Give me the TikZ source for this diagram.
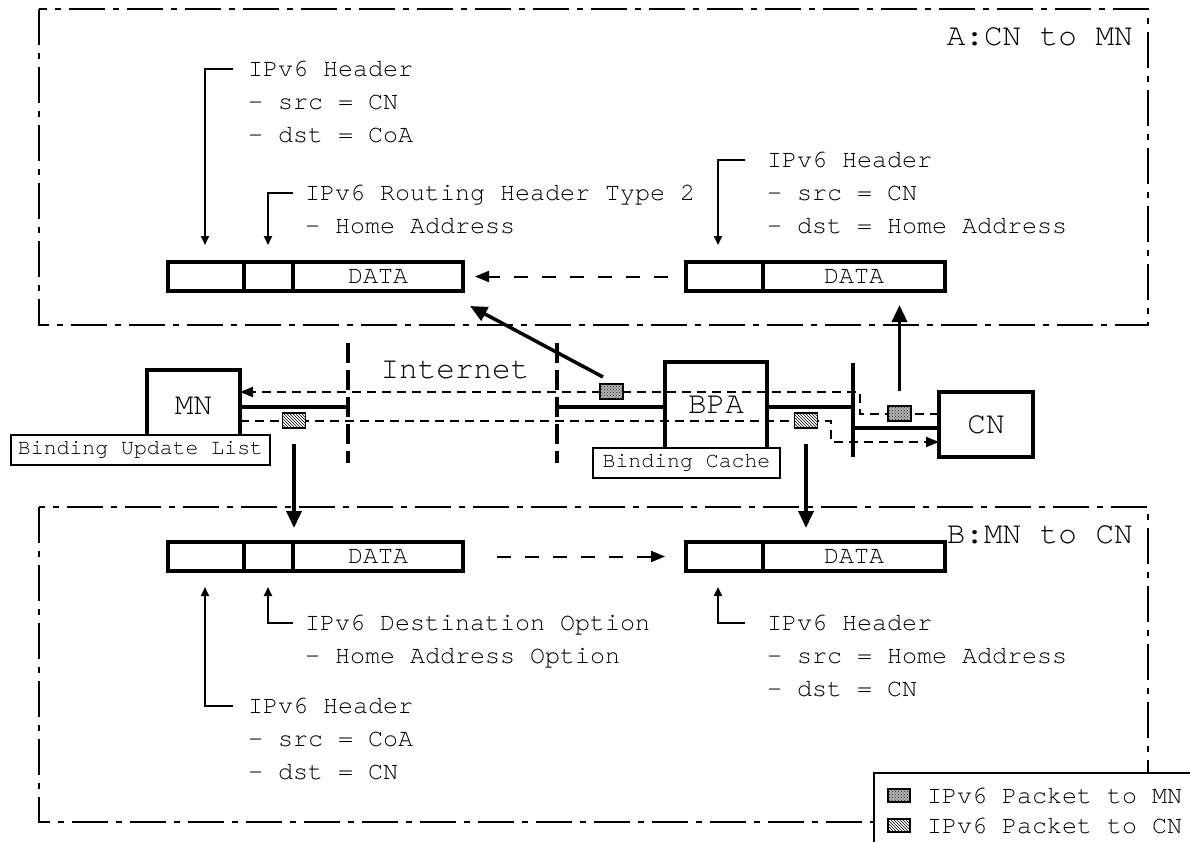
\documentclass[tikz,border=0pt]{standalone}
\usepackage{fontspec}
\setmainfont{texgyrecursor}[Extension=.otf, UprightFont=*-regular, BoldFont=*-bold]
\usetikzlibrary{arrows.meta,patterns}
\newcommand{\fsz}[1]{\fontsize{#1}{#1}\selectfont}
\begin{document}
\begin{tikzpicture}[x=1pt,y=-1pt,
  zone/.style={line width=1.5pt, dash pattern=on 36pt off 8pt on 6pt off 8pt},
  bcell/.style={draw, line width=3.5pt, minimum height=29pt, inner sep=0pt, outer sep=0pt, font=\fsz{25}},
  txt/.style={font=\fsz{25}, inner sep=0pt, anchor=base west},
  big/.style={font=\fsz{31}, inner sep=0pt},
  brk/.style={line width=2pt, -{Triangle[length=9pt,width=8pt]}},
  thk/.style={line width=3.5pt, -{Triangle[length=17pt,width=15pt]}},
  dasharr/.style={line width=2pt, dash pattern=on 14pt off 14pt, -{Triangle[length=14pt,width=11pt]}},
  netd/.style={line width=2pt, dash pattern=on 9pt off 6pt},
  nettip/.style={-{Triangle[length=13pt,width=10pt]}},
  slink/.style={line width=3.5pt},
  inet/.style={line width=3.5pt, dash pattern=on 20pt off 7pt},
  nbox/.style={draw, line width=4pt, inner sep=0pt, outer sep=0pt, font=\fsz{31}},
  lbl/.style={draw, fill=white, line width=1.5pt, inner sep=0pt, minimum height=30pt, font=\fsz{21.5}},
  pkm/.style={draw, line width=1.5pt, fill=gray!60, postaction={pattern=crosshatch dots, pattern color=gray!30!black}, minimum width=23pt, minimum height=15pt, inner sep=0pt},
  pkc/.style={draw, line width=1.5pt, fill=white, postaction={pattern=north west lines}, minimum width=23pt, minimum height=15pt, inner sep=0pt},
]
\useasboundingbox (0,0) rectangle (1190,841);
\fill[white] (0,0) rectangle (1190,841);

% frames
\draw[zone] (39,9) rectangle (1148,325);
\draw[zone] (39,507) rectangle (1148,822);
\node[big, anchor=base east] (ta) at (1133,45) {A:CN to MN};
\node[big, anchor=base east] (tb) at (1133,543) {B:MN to CN};

% packet bars A
\node[bcell, minimum width=76pt] (aL1) at (206,276.5) {};
\node[bcell, minimum width=49pt] (aL2) at (268.5,276.5) {};
\node[bcell, minimum width=170pt] (aL3) at (378,276.5) {DATA};
\node[bcell, minimum width=77pt] (aR1) at (724.5,276.5) {};
\node[bcell, minimum width=182pt] (aR2) at (854,276.5) {DATA};
% packet bars B
\node[bcell, minimum width=76pt] (bL1) at (206,556.5) {};
\node[bcell, minimum width=49pt] (bL2) at (268.5,556.5) {};
\node[bcell, minimum width=170pt] (bL3) at (378,556.5) {DATA};
\node[bcell, minimum width=77pt] (bR1) at (724.5,556.5) {};
\node[bcell, minimum width=182pt] (bR2) at (854,556.5) {DATA};

\draw[dasharr, shorten <=18pt, shorten >=12pt] (aR1.west) -- (aL3.east);
\draw[dasharr, shorten <=34pt, shorten >=21pt] (bL3.east) -- (bR1.west);

% texts A
\node[txt] (t1a) at (248,76) {IPv6 Header};
\node[txt] (t1b) at (248,109) {- src = CN};
\node[txt] (t1c) at (248,142) {- dst = CoA};
\node[txt] (t2a) at (305,200) {IPv6 Routing Header Type 2};
\node[txt] (t2b) at (305,233) {- Home Address};
\node[txt] (t3a) at (767,167) {IPv6 Header};
\node[txt] (t3b) at (767,200) {- src = CN};
\node[txt] (t3c) at (767,233) {- dst = Home Address};
% texts B
\node[txt] (t4a) at (305,630) {IPv6 Destination Option};
\node[txt] (t4b) at (305,663) {- Home Address Option};
\node[txt] (t5a) at (767,630) {IPv6 Header};
\node[txt] (t5b) at (767,663) {- src = Home Address};
\node[txt] (t5c) at (767,696) {- dst = CN};
\node[txt] (t6a) at (248,713) {IPv6 Header};
\node[txt] (t6b) at (248,746) {- src = CoA};
\node[txt] (t6c) at (248,779) {- dst = CN};

% brackets
\coordinate (hA1) at (233,69); \coordinate (cA1) at (205,69);
\coordinate (hA2) at (293,193); \coordinate (cA2) at (268,193);
\coordinate (hA3) at (745,160); \coordinate (cA3) at (718,160);
\draw[brk, shorten >=17pt] (hA1) -- (cA1) -- (cA1 |- aL1.north);
\draw[brk, shorten >=17pt] (hA2) -- (cA2) -- (cA2 |- aL2.north);
\draw[brk, shorten >=17pt] (hA3) -- (cA3) -- (cA3 |- aR1.north);
\coordinate (hB2) at (293,623); \coordinate (cB2) at (268,623);
\coordinate (hB1) at (233,706); \coordinate (cB1) at (205,706);
\coordinate (hB3) at (745,623); \coordinate (cB3) at (718,623);
\draw[brk, shorten >=16pt] (hB2) -- (cB2) -- (cB2 |- bL2.south);
\draw[brk, shorten >=16pt] (hB1) -- (cB1) -- (cB1 |- bL1.south);
\draw[brk, shorten >=16pt] (hB3) -- (cB3) -- (cB3 |- bR1.south);

% network
\node[nbox, minimum width=93pt, minimum height=72pt] (mn) at (193.5,406) {MN};
\node[nbox, minimum width=102pt, minimum height=92pt, text height=18pt, text depth=8pt] (bpa) at (716,408) {BPA};
\node[nbox, minimum width=94pt, minimum height=65pt] (cn) at (986,424.5) {CN};
\node[big, anchor=base] (inettxt) at (455,378) {Internet};

\coordinate (iL) at (348,407); \coordinate (iR) at (557,407);
\coordinate (iLt) at (348,343); \coordinate (iLb) at (348,463);
\coordinate (iRt) at (557,343); \coordinate (iRb) at (557,463);
\draw[inet] (iLt) -- (iLb);
\draw[inet] (iRt) -- (iRb);
\coordinate (rt) at (853,407); \coordinate (rt2) at (853,428);
\coordinate (rtT) at (853,363); \coordinate (rtB) at (853,457);
\draw[slink] (mn.east |- iL) -- (iL);
\draw[slink] (iR) -- (bpa.west |- iR);
\draw[slink] (bpa.east |- iR) -- (rt);
\draw[slink] (rtT) -- (rtB);
\draw[slink] (rt2) -- (cn.west |- rt2);

\coordinate (up1) at (860,413.5); \coordinate (up2) at (860,392);
\coordinate (lo1) at (831,420.5); \coordinate (lo2) at (831,442);
\draw[netd, nettip] (cn.west |- up1) -- (up1) -- (up2) -- (mn.east |- up2);
\draw[netd, nettip] (mn.east |- lo1) -- (lo1) -- (lo2) -- (cn.west |- lo2);

\node[pkm] (pkA) at (611.5,391.5) {};
\node[pkm] (pkC) at (899.5,413.5) {};
\node[pkc] (pkM) at (294,420.5) {};
\node[pkc] (pkB) at (806,420.5) {};

\node[lbl, minimum width=259pt] (bul) at (140.5,450) {Binding Update List};
\node[lbl, minimum width=187pt] (bc) at (686.5,463) {Binding Cache};

% big arrows
\coordinate (dgs) at (603,377); \coordinate (dge) at (470,306);
\draw[thk] (dgs) -- (dge);
\draw[thk, shorten <=14pt, shorten >=14pt] (pkC.north) -- (pkC.north |- aR2.south);
\draw[thk, shorten <=15pt, shorten >=14pt] (pkM.south) -- (pkM.south |- bL2.north);
\draw[thk, shorten <=15pt, shorten >=14pt] (pkB.south) -- (pkB.south |- bR2.north);

% legend
\draw[line width=1.5pt, fill=white] (874,773) rectangle (1196,850);
\node[pkm, minimum width=22pt, minimum height=13pt] (lg1) at (899,795.5) {};
\node[pkc, minimum width=22pt, minimum height=13pt] (lg2) at (899,825.5) {};
\node[txt] (lt1) at (927,803) {IPv6 Packet to MN};
\node[txt] (lt2) at (927,833) {IPv6 Packet to CN};
\end{tikzpicture}
\end{document}
